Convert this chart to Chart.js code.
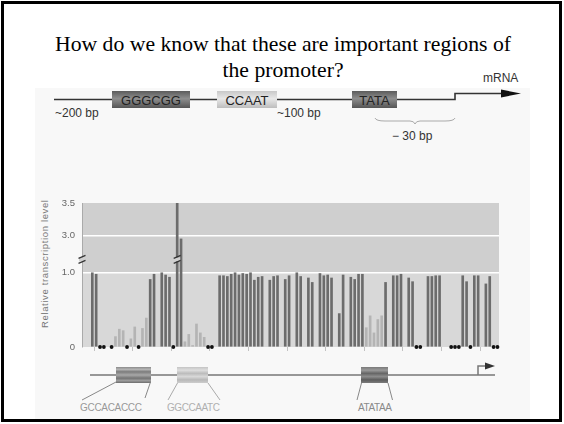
<!DOCTYPE html>
<html><head><meta charset="utf-8">
<script src="https://cdn.jsdelivr.net/npm/chart.js@4.4.1/dist/chart.umd.min.js"></script>
<style>
html,body{margin:0;padding:0;background:#fff;}
body{width:564px;height:424px;position:relative;overflow:hidden;}
#deco{position:absolute;left:0;top:0;z-index:0;}
#wrap{position:absolute;left:0;top:0;width:564px;height:424px;z-index:1;}
#frame{position:absolute;left:1px;top:1px;width:561px;height:421px;border:3px solid #000;box-sizing:border-box;z-index:2;pointer-events:none;}
</style></head>
<body>
<svg id="deco" width="564" height="424" xmlns="http://www.w3.org/2000/svg">
  <defs>
    <linearGradient id="gDark" x1="0" y1="0" x2="0" y2="1">
      <stop offset="0" stop-color="#5c5c5c"/><stop offset="0.45" stop-color="#8e8e8e"/><stop offset="1" stop-color="#555"/>
    </linearGradient>
    <linearGradient id="gLight" x1="0" y1="0" x2="0" y2="1">
      <stop offset="0" stop-color="#c8c8c8"/><stop offset="0.45" stop-color="#e8e8e8"/><stop offset="1" stop-color="#bdbdbd"/>
    </linearGradient>
    <linearGradient id="sMid" x1="0" y1="0" x2="0" y2="1">
      <stop offset="0" stop-color="#8a8a8a"/><stop offset="0.15" stop-color="#b4b4b4"/><stop offset="0.3" stop-color="#7c7c7c"/><stop offset="0.5" stop-color="#a8a8a8"/><stop offset="0.7" stop-color="#747474"/><stop offset="0.85" stop-color="#9c9c9c"/><stop offset="1" stop-color="#6c6c6c"/>
    </linearGradient>
    <linearGradient id="sLight" x1="0" y1="0" x2="0" y2="1">
      <stop offset="0" stop-color="#c4c4c4"/><stop offset="0.2" stop-color="#dedede"/><stop offset="0.4" stop-color="#bcbcbc"/><stop offset="0.6" stop-color="#d8d8d8"/><stop offset="0.8" stop-color="#b8b8b8"/><stop offset="1" stop-color="#cdcdcd"/>
    </linearGradient>
    <linearGradient id="sDark" x1="0" y1="0" x2="0" y2="1">
      <stop offset="0" stop-color="#7a7a7a"/><stop offset="0.2" stop-color="#9a9a9a"/><stop offset="0.4" stop-color="#666"/><stop offset="0.6" stop-color="#8c8c8c"/><stop offset="0.8" stop-color="#5c5c5c"/><stop offset="1" stop-color="#7c7c7c"/>
    </linearGradient>
  </defs>
  <rect x="35" y="88" width="495" height="331" fill="#f8f8f8"/>
  <g font-family="'Liberation Serif','Times New Roman',serif" font-size="21.7" fill="#000" text-anchor="middle">
    <text x="283" y="51">How do we know that these are important regions of</text>
    <text x="283" y="77">the promoter?</text>
  </g>
  <!-- promoter diagram -->
  <g fill="none" stroke="#333" stroke-width="1.6">
    <path d="M54 99.5 H112 M190 99.5 H217 M277 99.5 H352 M397 99.5 H455 V93.5 H503"/>
  </g>
  <polygon points="501,89.5 521,93.5 501,97.5" fill="#111"/>
  <rect x="112" y="91" width="78" height="17" fill="url(#gDark)"/>
  <rect x="217" y="91" width="60" height="17" fill="url(#gLight)"/>
  <rect x="352" y="91" width="45" height="17" fill="url(#gDark)"/>
  <g font-family="'Liberation Sans',Arial,sans-serif" font-size="13" fill="#222" text-anchor="middle">
    <text x="151" y="104.5">GGGCGG</text>
    <text x="247" y="104.5">CCAAT</text>
    <text x="374.5" y="104.5">TATA</text>
  </g>
  <g font-family="'Liberation Sans',Arial,sans-serif" font-size="12" fill="#333">
    <text x="55" y="117">~200 bp</text>
    <text x="277" y="117">~100 bp</text>
    <text x="392" y="140">− 30 bp</text>
    <text x="483" y="82">mRNA</text>
  </g>
  <path d="M375 118 Q376 121 385 121 H410 Q414 121 415 124 Q416 121 420 121 H445 Q454 121 455 118" fill="none" stroke="#aaa" stroke-width="1"/>
  <!-- bottom diagram -->
  <path d="M90 375 H495 M478 375 V366 H486" fill="none" stroke="#777" stroke-width="1.5"/>
  <polygon points="485,362.5 495,366 485,369.5" fill="#333"/>
  <rect x="116" y="367" width="35" height="16" fill="url(#sMid)"/>
  <rect x="177" y="367" width="31" height="16" fill="url(#sLight)"/>
  <rect x="361" y="367" width="27" height="16" fill="url(#sDark)"/>
  <g stroke="#888" stroke-width="1" fill="none">
    <path d="M116 382 L82 400 M150.5 382 L145 398"/>
    <path d="M177.5 383 L168 400 M208 383 L220 400" stroke="#aaa"/>
    <path d="M361.5 383 L357 400 M388 383 L392.5 400"/>
  </g>
  <g font-family="'Liberation Sans',Arial,sans-serif" font-size="10">
    <text x="80" y="411" fill="#999" textLength="62" lengthAdjust="spacing">GCCACACCC</text>
    <text x="167" y="411" fill="#b0b0b0" textLength="53" lengthAdjust="spacing">GGCCAATC</text>
    <text x="358" y="411" fill="#8a8a8a" textLength="34" lengthAdjust="spacing">ATATAA</text>
  </g>
  <!-- y-axis title -->
  <text transform="translate(48,264) rotate(-90)" text-anchor="middle" font-family="'Liberation Sans',Arial,sans-serif" font-size="9.5" fill="#777" textLength="128" lengthAdjust="spacing">Relative transcription level</text>
</svg>
<div id="wrap"><canvas id="c" width="564" height="424"></canvas></div>
<div id="frame"></div>
<script>
// Relative transcription level of each linker-scanning mutant (null = no mutant)
const relLevel = [
  1.0,0.98,0,0,1.03,0,0.14,0.24,0.22,0,
  0.11,0.27,0,0.25,0.39,0.91,0.98,1.04,1.0,0.97,
  0.94,0,4.0,2.95,0.07,0.17,0.02,0.31,0.19,0.13,
  0,0,1.03,0.96,0.96,0.95,0.98,1.0,0.97,0.99,
  0.98,1.0,0.9,0.94,0.95,1.04,0.9,0.95,0.96,1.06,
  0.91,0.96,1.02,1.0,0.95,1.05,0.93,0.87,1.03,0.99,
  0.96,0.97,0.93,1.03,0.45,0.97,1.04,0.94,0.91,0.98,
  0.98,0.26,0.42,0.19,0.37,0.42,0.87,1.03,0.96,0.96,
  0.98,1.02,0.93,0.88,0,0,1.05,0.95,0.95,0.96,
  0.96,null,1.08,0,0,0,0.96,0.88,0,0.96,
  0.96,null,0.85,0.95,0,0
];
const mutantPos = relLevel.map((_, i) => i);
const yTickValues = [0, 1.0, 3.0, 3.5];
const yTickLabels = ['0', '1.0', '3.0', '3.5'];
const xTickPositions = [0.5, 10.5, 20.5, 30.5, 40.5, 50.5, 60.5, 70.5, 80.5, 90.5, 100.5];

// broken axis: 0..1 linear, then break, then 3.0..3.5
function toAxis(v){ return v <= 1 ? v : 1.5 + (v - 3) * 0.88; }
const BREAK_AT = 1.18;
const DARK = '#6c6c6c', LIGHT = '#b4b4b4';

const barPts = [], barCols = [], zeroPts = [];
mutantPos.forEach((p, i) => {
  const v = relLevel[i];
  if (v === null) return;
  if (v === 0) { zeroPts.push({x: p, y: 0}); return; }
  barPts.push({x: p, y: toAxis(v)});
  barCols.push(v < 0.44 ? LIGHT : DARK);
});

const bgPlugin = {
  id: 'bg',
  beforeDraw(chart) {
    const {ctx, chartArea: a, scales: {y}} = chart;
    const y1 = y.getPixelForValue(1);
    ctx.save();
    ctx.fillStyle = '#cfcfcf';
    ctx.fillRect(a.left, a.top, a.right - a.left, y1 - a.top);
    ctx.fillStyle = '#d8d8d8';
    ctx.fillRect(a.left, y1, a.right - a.left, a.bottom - y1);
    ctx.restore();
  },
  afterDatasetsDraw(chart) {
    const {ctx, chartArea: a, scales: {x, y}} = chart;
    const yb = y.getPixelForValue(BREAK_AT);
    const marks = [a.left];
    relLevel.forEach((v, i) => { if (v !== null && toAxis(v) > y.max) marks.push(x.getPixelForValue(mutantPos[i])); });
    ctx.save();
    marks.forEach(px => {
      ctx.fillStyle = '#d0d0d0';
      ctx.fillRect(px - 3, yb - 2, 6, 4);
      ctx.strokeStyle = '#333';
      ctx.lineWidth = 1.2;
      ctx.beginPath();
      ctx.moveTo(px - 3.5, yb - 1); ctx.lineTo(px + 3.5, yb - 4);
      ctx.moveTo(px - 3.5, yb + 4); ctx.lineTo(px + 3.5, yb + 1);
      ctx.stroke();
    });
    ctx.restore();
  }
};

new Chart(document.getElementById('c'), {
  data: {
    datasets: [
      { type: 'bar', data: barPts, backgroundColor: barCols, barThickness: 2, borderWidth: 0, order: 2 },
      { type: 'scatter', data: zeroPts, pointRadius: 1.9, pointBackgroundColor: '#111', pointBorderWidth: 0, order: 1, clip: false }
    ]
  },
  options: {
    responsive: false, animation: false, events: [],
    layout: { padding: { left: 36, top: 203, right: 65, bottom: 71 } },
    plugins: { legend: { display: false }, tooltip: { enabled: false } },
    scales: {
      x: {
        type: 'linear', min: -2.67, max: 105.4, offset: false,
        afterBuildTicks(s) { s.ticks = xTickPositions.map(v => ({ value: v })); },
        afterFit(s) { s.height = 6; },
        ticks: { callback: () => '', autoSkip: false },
        grid: { offset: false, drawOnChartArea: false, drawTicks: true, tickLength: 4, color: '#c2c2c2' },
        border: { display: false }
      },
      y: {
        min: 0, max: toAxis(3.5),
        afterBuildTicks(s) { s.ticks = yTickValues.map(v => ({ value: toAxis(v) })); },
        afterFit(s) { s.width = 46; },
        ticks: {
          autoSkip: false, padding: 7, color: '#666',
          font: { family: "'Liberation Sans', Arial, sans-serif", size: 9.5 },
          callback: (val, i) => yTickLabels[i]
        },
        grid: {
          drawTicks: false, lineWidth: 1.5,
          color: ctx => (ctx.index === 1 || ctx.index === 2) ? '#ffffff' : 'rgba(0,0,0,0)'
        },
        border: { color: '#aaa', width: 1 },
        title: { display: false }
      }
    }
  },
  plugins: [bgPlugin]
});
</script>
</body></html>
